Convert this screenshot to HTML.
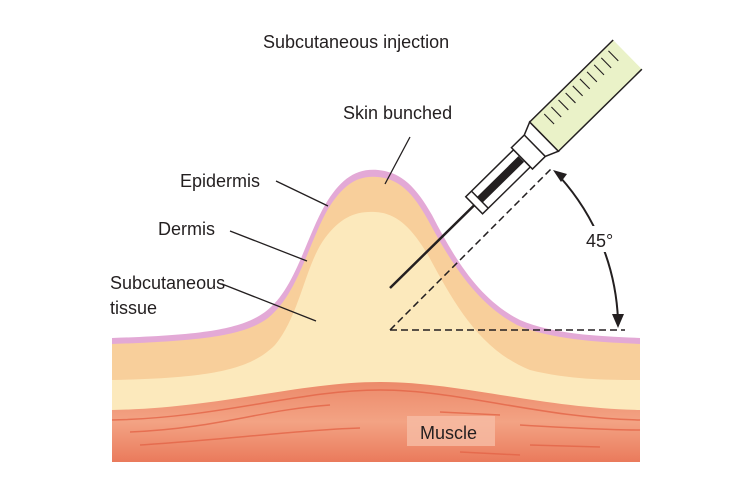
<!DOCTYPE html>
<html><head><meta charset="utf-8"><style>
html,body{margin:0;padding:0;background:#fff}
svg{display:block}
text{font-family:"Liberation Sans",sans-serif;fill:#231f20}
</style></head><body>
<svg width="750" height="500" viewBox="0 0 750 500" xmlns="http://www.w3.org/2000/svg">
<defs>
<linearGradient id="mg" x1="0" y1="0" x2="0" y2="1">
<stop offset="0" stop-color="#ec8a6a"/><stop offset="0.5" stop-color="#f3a384"/><stop offset="1" stop-color="#ea7a5c"/>
</linearGradient>
</defs>
<path d="M112,338 C200,335 240,330 265,312 C295,290 305,240 325,205 C340,180 355,168 378,170 C400,172 415,185 432,215 C455,260 480,300 520,320 C555,335 600,336 640,338 L640,462 L112,462 Z" fill="#e3a9d6"/>
<path d="M112,344 C200,341 244,336 268,318 C298,294 308,244 328,209 C343,185 357,175 378,177 C398,179 412,191 428,220 C451,263 477,304 517,325 C552,340 600,342 640,344 L640,462 L112,462 Z" fill="#f8cf9b"/>
<path d="M112,380 C210,378 250,370 275,345 C300,315 305,265 325,238 C340,218 355,211 375,212 C395,213 410,225 428,255 C455,305 480,350 530,370 C570,380 610,380 640,380 L640,462 L112,462 Z" fill="#fce9bc"/>
<path d="M112,410 C220,408 300,382 380,382 C460,382 540,408 640,410 L640,462 L112,462 Z" fill="url(#mg)"/>
<g stroke="#e46548" stroke-width="1.5" fill="none" opacity="0.8">
<path d="M112,420 C220,418 300,390 380,390 C460,390 540,418 640,420"/>
<path d="M130,432 C220,428 260,410 330,405"/>
<path d="M140,445 C220,440 300,430 360,428"/>
<path d="M520,425 C570,428 610,430 640,430"/>
<path d="M440,412 L500,415"/><path d="M460,452 L520,455"/><path d="M530,445 L600,447"/>
</g>
<rect x="407" y="416" width="88" height="30" fill="#f6bda5" opacity="0.8"/>
<text x="420" y="439" font-size="18">Muscle</text>
<path d="M390,330 L625,330 M390,330 L553,167" stroke="#231f20" stroke-width="1.5" stroke-dasharray="7,4" fill="none"/>
<path d="M560,177 A228,228 0 0 1 618,320" stroke="#231f20" stroke-width="2" fill="none"/>
<path d="M553,170 L567,174 L561,182 Z" fill="#231f20"/>
<path d="M618,328 L612,314 L624,314 Z" fill="#231f20"/>
<rect x="584" y="226" width="34" height="26" fill="#fff"/>
<text x="586" y="247" font-size="18">45°</text>
<g transform="translate(390,288) rotate(-44.5)">
<line x1="0" y1="0" x2="120" y2="0" stroke="#231f20" stroke-width="2.5"/>
<rect x="118" y="-12" width="67" height="24" fill="#fff" stroke="#231f20" stroke-width="1.5"/>
<line x1="126" y1="-12" x2="126" y2="12" stroke="#231f20" stroke-width="1.5"/>
<rect x="126" y="-4" width="58" height="8" fill="#231f20"/>
<path d="M185,-15 L203,-15 L216,-20.5 L216,20.5 L203,15 L185,15 Z" fill="#fff" stroke="#231f20" stroke-width="1.5"/>
<line x1="203" y1="-15" x2="203" y2="15" stroke="#231f20" stroke-width="1.5"/>
<rect x="216" y="-20.5" width="117" height="41" fill="#eaf2c8"/>
<path d="M333,-20.5 L216,-20.5 L216,20.5 L333,20.5" fill="none" stroke="#231f20" stroke-width="1.5"/>
<g stroke="#231f20" stroke-width="1.1">
<line x1="232" y1="-16" x2="232" y2="-2"/><line x1="242" y1="-16" x2="242" y2="-2"/><line x1="252" y1="-16" x2="252" y2="-2"/>
<line x1="262" y1="-16" x2="262" y2="-2"/><line x1="272" y1="-16" x2="272" y2="-2"/><line x1="282" y1="-16" x2="282" y2="-2"/>
<line x1="292" y1="-16" x2="292" y2="-2"/><line x1="302" y1="-16" x2="302" y2="-2"/><line x1="312" y1="-16" x2="312" y2="-2"/>
<line x1="322" y1="-16" x2="322" y2="-2"/>
</g>
</g>
<text x="263" y="48" font-size="18">Subcutaneous injection</text>
<text x="343" y="119" font-size="18">Skin bunched</text>
<text x="180" y="187" font-size="18">Epidermis</text>
<text x="158" y="235" font-size="18">Dermis</text>
<text x="110" y="289" font-size="18">Subcutaneous</text>
<text x="110" y="314" font-size="18">tissue</text>
<g stroke="#231f20" stroke-width="1.3">
<line x1="410" y1="137" x2="385" y2="184"/>
<line x1="276" y1="181" x2="328" y2="206"/>
<line x1="230" y1="231" x2="307" y2="261"/>
<line x1="222" y1="284" x2="316" y2="321"/>
</g>
</svg>
</body></html>
